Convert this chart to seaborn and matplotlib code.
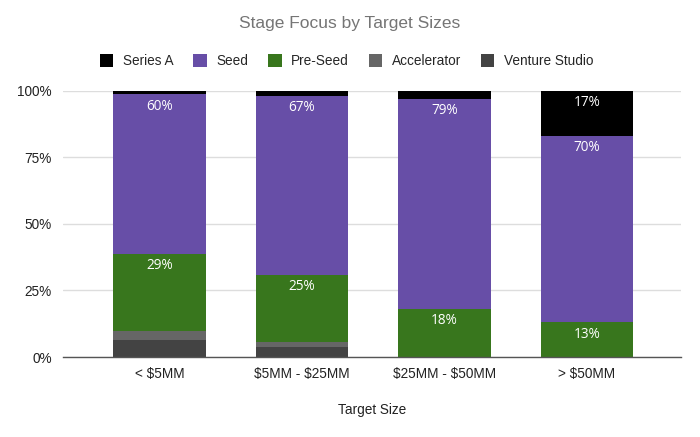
import numpy as np
import pandas as pd
import matplotlib
matplotlib.use("Agg")
import matplotlib.pyplot as plt
from matplotlib.patches import Patch
import seaborn as sns

# Data (percent of investors per stage, by target size)
sizes = ["< $5MM", "$5MM - $25MM", "$25MM - $50MM", "> $50MM"]
venture_studio = [6.5, 3.6, 0.0, 0.0]
accelerator = [3.2, 1.9, 0.0, 0.0]
pre_seed = [29.0, 25.4, 18.0, 13.0]
seed = [60.0, 67.3, 79.0, 70.0]
series_a = [1.3, 1.8, 3.0, 17.0]

# bottom -> top
stages = ["Venture Studio", "Accelerator", "Pre-Seed", "Seed", "Series A"]
values = [venture_studio, accelerator, pre_seed, seed, series_a]
colors = ["#434343", "#666666", "#38761d", "#674ea7", "#000000"]

sns.set_theme(style="white")
plt.rcParams["font.family"] = ["Liberation Sans", "DejaVu Sans"]
plt.rcParams["text.parse_math"] = False  # dollar signs are literal

fig, ax = plt.subplots(figsize=(7, 4.37), dpi=100)
fig.subplots_adjust(left=0.09, right=0.973, bottom=0.183, top=0.792)

cum = np.cumsum(np.array(values), axis=0)

# overlap technique: tallest cumulative bar first
for k in range(len(stages) - 1, -1, -1):
    sns.barplot(x=sizes, y=cum[k], color=colors[k], width=0.65,
                saturation=1, linewidth=0, ax=ax, zorder=2)

# labels near top of each larger segment
for k in range(len(stages)):
    for i in range(len(sizes)):
        v = values[k][i]
        if v >= 10:
            ax.annotate(f"{v:.0f}%", xy=(i, cum[k][i]), xytext=(0, -8.5),
                        textcoords="offset points", ha="center", va="center",
                        color="white", fontsize=9.8, family=["Open Sans", "DejaVu Sans"],
                        zorder=5)

ax.set_ylim(0, 100)
ax.set_xlim(-0.677, 3.66)
ax.set_yticks([0, 25, 50, 75, 100])
ax.set_yticklabels([f"{t}%" for t in [0, 25, 50, 75, 100]])
ax.yaxis.grid(True, color="#dddddd", linewidth=1, zorder=0)
ax.set_axisbelow(True)
for s in ["top", "right", "left"]:
    ax.spines[s].set_visible(False)
ax.spines["bottom"].set_color("#555555")
ax.spines["bottom"].set_linewidth(1)
ax.tick_params(axis="both", length=0, labelsize=9.8, colors="#222222")
ax.tick_params(axis="y", pad=8)
ax.tick_params(axis="x", pad=7)

ax.set_xlabel("Target Size", fontsize=9.8, color="#222222", labelpad=16)
ax.set_ylabel("")

fig.suptitle("Stage Focus by Target Sizes", x=0.5, y=0.963, fontsize=12.5, color="#757575")

legend_order = ["Series A", "Seed", "Pre-Seed", "Accelerator", "Venture Studio"]
handles = [Patch(facecolor=colors[stages.index(n)], edgecolor="none", label=n)
           for n in legend_order]
fig.legend(handles=handles, loc="center", bbox_to_anchor=(0.495, 0.86), ncol=5,
           frameon=False, fontsize=9.8, handlelength=1.0, handleheight=1.0,
           handletextpad=0.7, columnspacing=1.45)

fig.savefig("out.png", dpi=100)
